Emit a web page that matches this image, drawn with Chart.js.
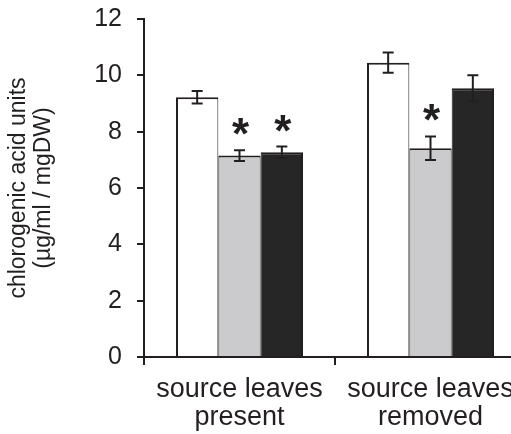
<!DOCTYPE html>
<html>
<head>
<meta charset="utf-8">
<script src="https://cdn.jsdelivr.net/npm/chart.js@4.4.1/dist/chart.umd.min.js"></script>
<style>
  html, body { margin: 0; padding: 0; overflow: hidden; background: #fff; }
  canvas { display: block; }
</style>
</head>
<body>
<canvas id="chart" width="526" height="434"></canvas>
<script>
// categories (two-line labels)
const groups = [['source leaves', 'present'], ['source leaves', 'removed']];

// mean values per treatment
const whiteVals = [9.22, 10.45];
const grayVals  = [7.15, 7.41];
const blackVals = [7.27, 9.54];

// standard errors
const whiteErr = [0.22, 0.36];
const grayErr  = [0.19, 0.42];
const blackErr = [0.20, 0.46];

// significance marks (*)
const whiteSig = [false, false];
const graySig  = [true, true];
const blackSig = [true, false];

const yTicks = [0, 2, 4, 6, 8, 10, 12];

const INK = '#231f20';
const FONT = "'Liberation Sans', Arial, Helvetica, sans-serif";

// error bars + asterisks drawn on top of the bars
const errorBars = {
    id: 'errorBars',
    afterDatasetsDraw(chart) {
        const { ctx, scales: { y } } = chart;
        ctx.save();
        ctx.strokeStyle = INK;
        ctx.fillStyle = INK;
        ctx.lineWidth = 2;
        ctx.font = 'bold 44px ' + FONT;
        ctx.textAlign = 'center';
        ctx.textBaseline = 'alphabetic';
        chart.data.datasets.forEach((ds, i) => {
            chart.getDatasetMeta(i).data.forEach((bar, j) => {
                const v = ds.data[j], e = ds.errors[j];
                const top = y.getPixelForValue(v + e);
                const bot = y.getPixelForValue(v - e);
                const cap = 5.5;
                ctx.beginPath();
                ctx.moveTo(bar.x, top); ctx.lineTo(bar.x, bot);
                ctx.moveTo(bar.x - cap, top); ctx.lineTo(bar.x + cap, top);
                ctx.moveTo(bar.x - cap, bot); ctx.lineTo(bar.x + cap, bot);
                ctx.stroke();
                if (ds.signif[j]) ctx.fillText('*', bar.x + 1, top - 1);
            });
        });
        ctx.restore();
    }
};

const mk = (label, data, errors, signif, fill, bw) => ({
    label, data, errors, signif,
    backgroundColor: fill,
    borderColor: INK,
    borderWidth: bw,
    borderSkipped: false,
    barPercentage: 1.0,
    categoryPercentage: 0.665,
});

new Chart(document.getElementById('chart'), {
    type: 'bar',
    data: {
        labels: groups,
        datasets: [
            mk('white', whiteVals, whiteErr, whiteSig, '#ffffff', { top: 2, left: 2, right: 1, bottom: 0 }),
            mk('gray',  grayVals,  grayErr,  graySig,  '#cbcbcd', { top: 2, left: 1, right: 1, bottom: 0 }),
            mk('black', blackVals, blackErr, blackSig, '#262626', { top: 2, left: 1, right: 2, bottom: 0 }),
        ],
    },
    options: {
        responsive: false,
        animation: false,
        layout: { padding: { top: 19, right: 0, bottom: 0, left: 0 } },
        plugins: { legend: { display: false }, tooltip: { enabled: false } },
        scales: {
            x: {
                grid: { offset: true, drawOnChartArea: false, tickLength: 8, color: INK, lineWidth: 2 },
                border: { color: INK, width: 2 },
                ticks: { color: INK, font: { size: 27, family: FONT, lineHeight: 1.05 }, padding: 10 },
                afterFit: s => { s.height = 77; },
            },
            y: {
                min: 0, max: 12,
                afterBuildTicks: s => { s.ticks = yTicks.map(v => ({ value: v })); },
                grid: { drawOnChartArea: false, tickLength: 7, color: INK, lineWidth: 2 },
                border: { color: INK, width: 2 },
                ticks: { color: INK, font: { size: 25, family: FONT }, padding: 15 },
                title: {
                    display: true,
                    text: ['chlorogenic acid units', '(µg/ml / mgDW)'],
                    color: INK,
                    font: { size: 23, family: FONT, lineHeight: 1.08 },
                    padding: { top: 6, bottom: 0 },
                },
                afterFit: s => { s.width = 144; s.paddingTop = 0; s.paddingBottom = 0; },
            },
        },
    },
    plugins: [errorBars],
});
</script>
</body>
</html>
